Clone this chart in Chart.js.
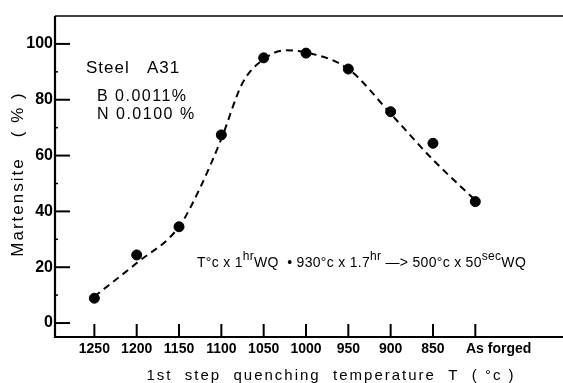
<!DOCTYPE html>
<html>
<head>
<meta charset="utf-8">
<script src="https://cdn.jsdelivr.net/npm/chart.js@4"></script>
<style>
html,body{margin:0;padding:0;background:#fff;overflow:hidden;}
#wrap{width:563px;height:383px;}
canvas{display:block;}
</style>
</head>
<body>
<div id="wrap"><canvas id="c" width="563" height="383"></canvas></div>
<script>
const categories = ['1250','1200','1150','1100','1050','1000','950','900','850','As forged'];
const martensite = [8.9, 24.4, 34.5, 67.4, 95.0, 96.7, 91.0, 75.7, 64.4, 43.5];
const curveIndex = [0, 1, 2, 2.5, 3, 3.5, 4, 4.5, 5, 6, 7, 8, 9];
const curveValues = [9.5, 21.5, 34.5, 48.5, 66, 86, 94.5, 97.7, 97, 91, 75, 58.5, 44];
const yTicks = [0, 20, 40, 60, 80, 100];
const yMinorTicks = [10, 30, 50, 70, 90];

const FONT = "'Liberation Sans', Arial, sans-serif";

const framePlugin = {
  id: 'frame',
  afterDraw(chart) {
    const ctx = chart.ctx;
    const a = chart.chartArea;
    const xs = chart.scales.x, ys = chart.scales.y;
    ctx.save();
    ctx.strokeStyle = '#000';
    ctx.lineCap = 'butt';
    ctx.lineWidth = 2.2;
    ctx.beginPath();
    ctx.moveTo(a.left, a.top); ctx.lineTo(a.left, a.bottom); ctx.lineTo(chart.width, a.bottom);
    ctx.stroke();
    ctx.lineWidth = 1.6;
    ctx.beginPath();
    ctx.moveTo(a.left, a.top); ctx.lineTo(chart.width, a.top);
    ctx.stroke();
    ctx.lineWidth = 2;
    yTicks.forEach(v => {
      const y = ys.getPixelForValue(v);
      ctx.beginPath(); ctx.moveTo(a.left, y); ctx.lineTo(a.left + 15, y); ctx.stroke();
    });
    ctx.lineWidth = 1.5;
    yMinorTicks.forEach(v => {
      const y = ys.getPixelForValue(v);
      ctx.beginPath(); ctx.moveTo(a.left, y); ctx.lineTo(a.left + 3, y); ctx.stroke();
    });
    ctx.lineWidth = 2;
    categories.forEach((c, i) => {
      const x = xs.getPixelForValue(i);
      ctx.beginPath(); ctx.moveTo(x, a.bottom); ctx.lineTo(x, a.bottom - 13); ctx.stroke();
    });

    ctx.fillStyle = '#000';
    ctx.textBaseline = 'middle';
    ctx.font = '15px ' + FONT;
    ctx.letterSpacing = '2px';
    ctx.textAlign = 'center';
    ctx.fillText('1st  step  quenching  temperature  T  ( °c )', 331, 376);
    ctx.save();
    ctx.translate(18, 174);
    ctx.rotate(-Math.PI / 2);
    ctx.font = '17px ' + FONT;
    ctx.letterSpacing = '2px';
    ctx.fillText('Martensite   ( % )', 0, 0);
    ctx.restore();

    ctx.textAlign = 'left';
    ctx.font = '17px ' + FONT;
    ctx.letterSpacing = '1px';
    ctx.fillText('Steel   A31', 86, 68);
    ctx.font = '16px ' + FONT;
    ctx.letterSpacing = '1.5px';
    ctx.fillText('B 0.0011%', 97, 97);
    ctx.fillText('N 0.0100 %', 97, 115);

    ctx.letterSpacing = '0.3px';
    const parts = [
      ['T°c x 1', 0], ['hr', 1], ['WQ  • 930°c x 1.7', 0], ['hr', 1],
      [' —> 500°c x 50', 0], ['sec', 1], ['WQ', 0]
    ];
    let x = 197;
    const base = 267;
    ctx.textBaseline = 'alphabetic';
    parts.forEach(([t, sup]) => {
      ctx.font = (sup ? '12px ' : '14px ') + FONT;
      ctx.fillText(t, x, sup ? base - 7 : base);
      x += ctx.measureText(t).width;
    });
    ctx.restore();
  }
};

new Chart(document.getElementById('c'), {
  type: 'scatter',
  data: {
    datasets: [
      {
        type: 'line',
        data: curveIndex.map((v, i) => ({ x: v, y: curveValues[i] })),
        borderColor: '#000',
        borderWidth: 2,
        borderDash: [7, 5],
        pointRadius: 0,
        cubicInterpolationMode: 'monotone',
        fill: false,
        order: 2
      },
      {
        data: martensite.map((v, i) => ({ x: i, y: v })),
        backgroundColor: '#000',
        borderColor: '#000',
        pointRadius: 5,
        pointHoverRadius: 5,
        showLine: false,
        order: 1
      }
    ]
  },
  options: {
    responsive: false,
    animation: false,
    events: [],
    layout: { padding: { top: 16, right: 0, left: 0, bottom: 0 } },
    plugins: { legend: { display: false }, tooltip: { enabled: false } },
    scales: {
      x: {
        type: 'linear',
        min: -0.93,
        max: 10.93,
        grid: { display: false, drawTicks: false },
        border: { display: false },
        afterBuildTicks: s => { s.ticks = categories.map((c, i) => ({ value: i })); },
        afterFit: s => { s.height = 46; s.paddingRight = 0; s.paddingLeft = 0; },
        ticks: {
          autoSkip: false,
          maxRotation: 0,
          padding: 4,
          color: '#000',
          font: { family: FONT, size: 14, weight: 'bold' },
          callback: v => (v === categories.length - 1 ? '            ' : '') + categories[v]
        }
      },
      y: {
        min: -5,
        max: 110,
        grid: { display: false, drawTicks: false },
        border: { display: false },
        afterBuildTicks: s => { s.ticks = yTicks.map(v => ({ value: v })); },
        afterFit: s => { s.width = 55; },
        ticks: {
          padding: 2,
          color: '#000',
          font: { family: FONT, size: 16, weight: 'bold' },
          callback: v => String(v)
        }
      }
    }
  },
  plugins: [framePlugin]
});
</script>
</body>
</html>
